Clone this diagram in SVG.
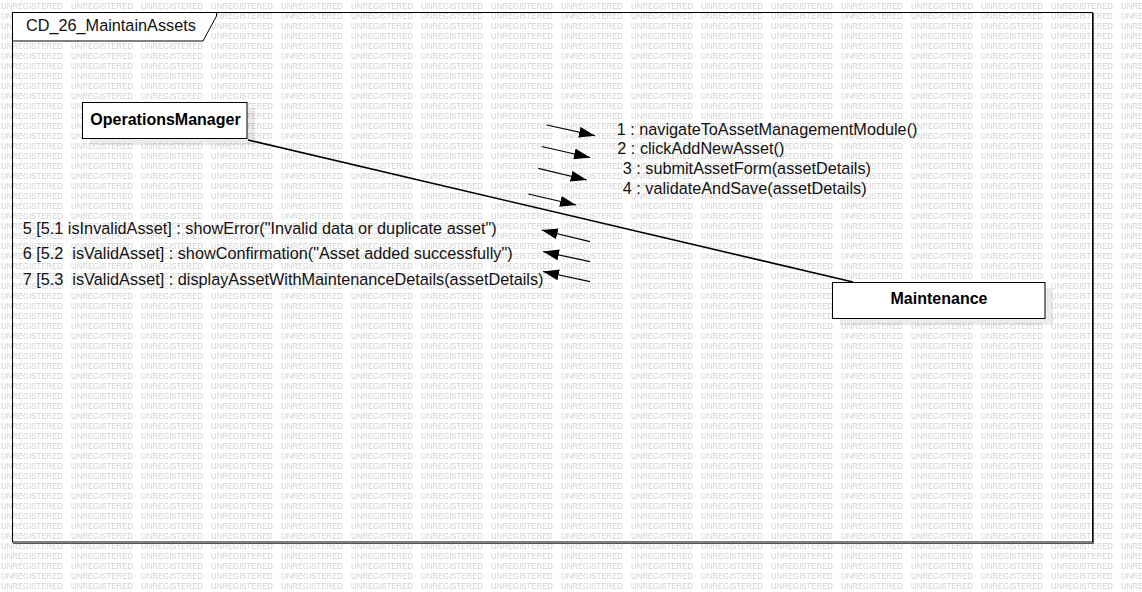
<svg xmlns="http://www.w3.org/2000/svg" width="1142" height="592" viewBox="0 0 1142 592">
<style>
.wm{font-family:"Liberation Sans",Arial,sans-serif;font-size:8.5px;fill:#d2d2d2}
.lbl{font-family:"Liberation Sans",Arial,sans-serif;font-size:16.25px;fill:#111;white-space:pre}
.name{font-family:"Liberation Sans",Arial,sans-serif;font-size:16px;font-weight:bold;fill:#000;text-anchor:middle}
.box{fill:#fff;stroke:#000;stroke-width:1}
.shadow{fill:#000;fill-opacity:0.08}
.msg{stroke:#000;stroke-width:1.2;fill:none;marker-end:url(#ah)}
.link{stroke:#000;stroke-width:1.6;fill:none}
</style>
<defs>
<pattern id="wm" x="0" y="0" width="70" height="10" patternUnits="userSpaceOnUse">
<text class="wm" x="1" y="9" textLength="62" lengthAdjust="spacingAndGlyphs">UNREGISTERED</text>
</pattern>
<marker id="ah" markerUnits="userSpaceOnUse" markerWidth="17" markerHeight="11" refX="16" refY="5.5" orient="auto" viewBox="0 0 17 11">
<path d="M0,0 L16,5.5 L0,11 z" fill="#000"/>
</marker>
</defs>
<rect x="0" y="0" width="1142" height="592" fill="#fff"/>
<rect x="0" y="0" width="1142" height="592" fill="url(#wm)"/>
<g id="frame">
<rect x="12.5" y="12.5" width="1080" height="529.5" fill="none" stroke="#000" stroke-width="1"/>
<polyline points="1093.5,13 1093.5,543.5 13,543.5" fill="none" stroke="#555" stroke-width="1"/>
<path d="M12.5,12.5 H216.5 V16 L203,41 H12.5 Z" fill="#fff" stroke="#000" stroke-width="1"/>
<text class="lbl" x="26" y="30.5">CD_26_MaintainAssets</text>
</g>
<g id="connectors">
<line class="link" x1="248" y1="140" x2="853" y2="282"/>
<line class="msg" x1="546.7" y1="125" x2="595" y2="135.7"/>
<line class="msg" x1="541.7" y1="146.5" x2="590" y2="157.5"/>
<line class="msg" x1="538.3" y1="168.3" x2="586.7" y2="180"/>
<line class="msg" x1="528.3" y1="194" x2="576" y2="205"/>
<line class="msg" x1="590" y1="241.7" x2="541.7" y2="230"/>
<line class="msg" x1="590" y1="261.7" x2="543" y2="251.5"/>
<line class="msg" x1="590" y1="281.7" x2="543" y2="271.5"/>
</g>
<g id="labels">
<text class="lbl" x="616.7" y="134.5">1 : navigateToAssetManagementModule()</text>
<text class="lbl" x="617.3" y="154.3">2 : clickAddNewAsset()</text>
<text class="lbl" x="622.7" y="174.3">3 : submitAssetForm(assetDetails)</text>
<text class="lbl" x="622.7" y="194">4 : validateAndSave(assetDetails)</text>
<text class="lbl" x="22.7" y="233.5">5 [5.1 isInvalidAsset] : showError("Invalid data or duplicate asset")</text>
<text class="lbl" x="22.7" y="259.3">6 [5.2  isValidAsset] : showConfirmation("Asset added successfully")</text>
<text class="lbl" x="22.7" y="284.5">7 [5.3  isValidAsset] : displayAssetWithMaintenanceDetails(assetDetails)</text>
</g>
<g id="OperationsManager">
<rect class="shadow" x="90" y="108" width="165" height="37"/>
<rect class="box" x="82.5" y="102.5" width="164.5" height="36"/>
<text class="name" x="165.5" y="125">OperationsManager</text>
</g>
<g id="Maintenance">
<rect class="shadow" x="840" y="288" width="213" height="37"/>
<rect class="box" x="832.5" y="282.5" width="212.5" height="36"/>
<text class="name" x="939" y="303.5">Maintenance</text>
</g>
</svg>
